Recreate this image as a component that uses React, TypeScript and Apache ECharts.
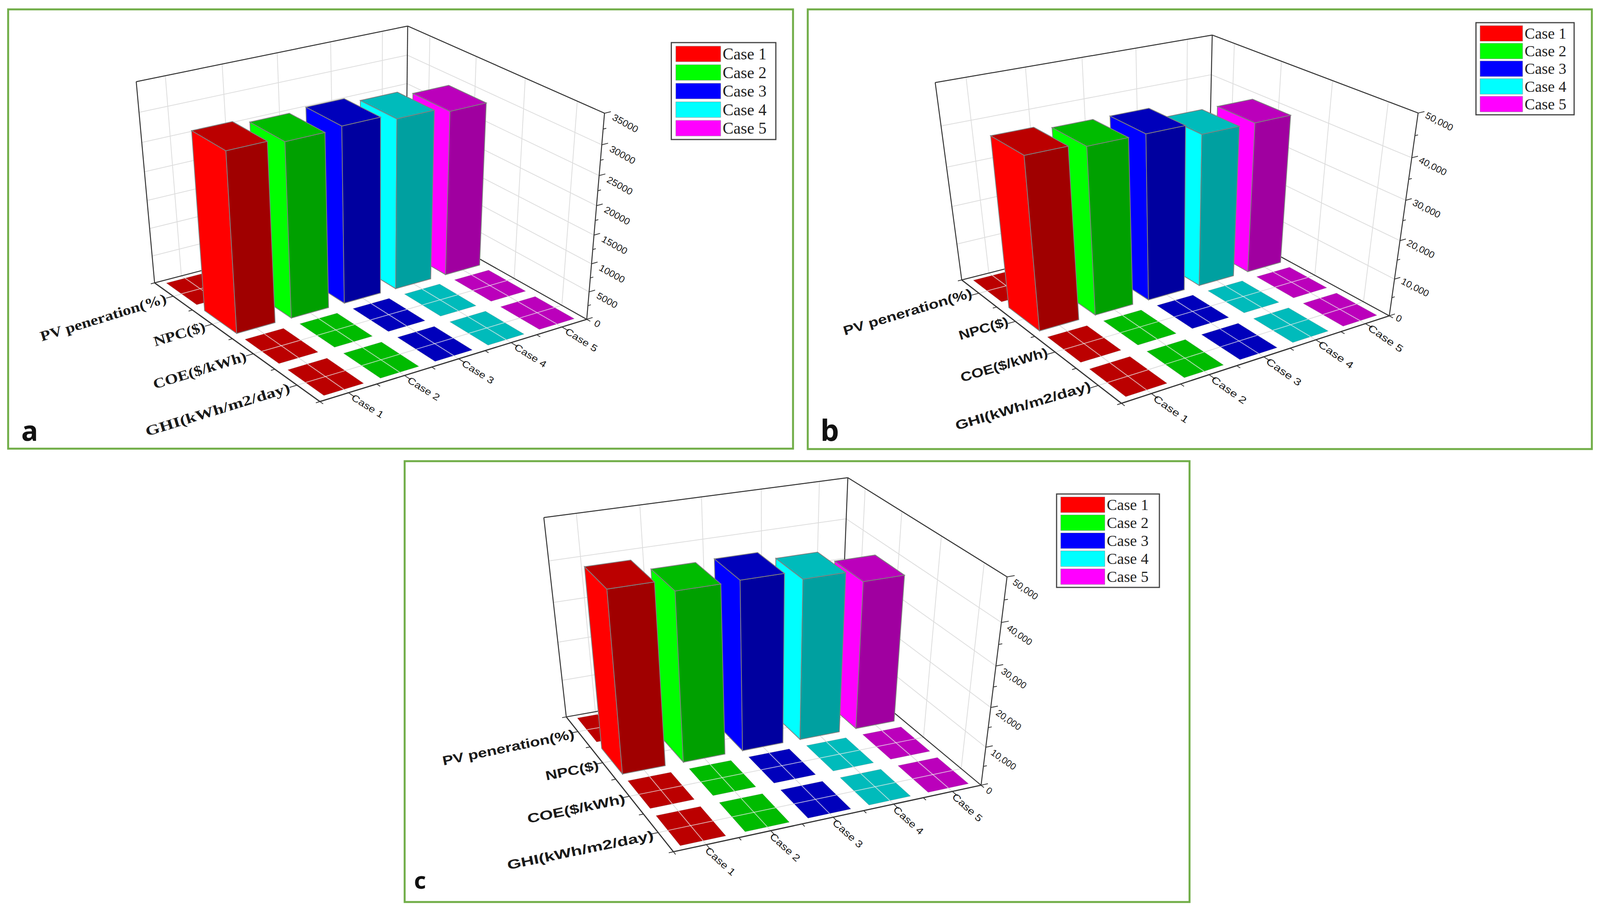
import React, { useEffect, useRef } from "react";
import * as echarts from "echarts";

const caseNames = ["Case 1", "Case 2", "Case 3", "Case 4", "Case 5"];
const rowNames = ["PV peneration(%)", "NPC($)", "COE($/kWh)", "GHI(kWh/m2/day)"];

const pvA = [60, 60, 60, 60, 60];
const npcA = [31000, 30300, 30700, 29800, 29000];
const coeA = [0.3, 0.3, 0.3, 0.3, 0.3];
const ghiA = [5.5, 5.5, 5.5, 5.5, 5.5];

const pvB = [60, 60, 60, 60, 60];
const npcB = [43100, 42200, 42200, 39300, 39300];
const coeB = [0.3, 0.3, 0.3, 0.3, 0.3];
const ghiB = [5.5, 5.5, 5.5, 5.5, 5.5];

const pvC = [60, 60, 60, 60, 60];
const npcC = [45000, 42300, 42500, 40500, 37700];
const coeC = [0.3, 0.3, 0.3, 0.3, 0.3];
const ghiC = [5.5, 5.5, 5.5, 5.5, 5.5];

const ticksA = ["0", "5000", "10000", "15000", "20000", "25000", "30000", "35000"];
const ticksBC = ["0", "10,000", "20,000", "30,000", "40,000", "50,000"];

const frontColors = ["#ff0000", "#00ff00", "#0000ff", "#00ffff", "#ff00ff"];
const topColors = ["#bb0000", "#00bb00", "#0000bb", "#00bbbb", "#bb00bb"];
const sideColors = ["#a00000", "#00a000", "#00009f", "#00a0a0", "#a000a0"];

type P = [number, number];

const SX = 2064 / 1568;

function makeProjection(cfg: any) {
  const z = (q: P): P => [cfg.ox + q[0] * SX, cfg.oy + q[1] * cfg.sy];
  const A = z(cfg.A), B = z(cfg.B), C = z(cfg.C), D = z(cfg.D), A1 = z(cfg.A1), C1 = z(cfg.C1);
  const [x0, y0] = A, [x1, y1] = D, [x2, y2] = C, [x3, y3] = B;
  const dx1 = x1 - x2, dx2 = x3 - x2, sx = x0 - x1 + x2 - x3;
  const dy1 = y1 - y2, dy2 = y3 - y2, sy = y0 - y1 + y2 - y3;
  const den = dx1 * dy2 - dx2 * dy1;
  const g = (sx * dy2 - dx2 * sy) / den;
  const h = (dx1 * sy - sx * dy1) / den;
  const a = x1 - x0 + g * x1, b = x3 - x0 + h * x3, c = x0;
  const d = y1 - y0 + g * y1, e = y3 - y0 + h * y3, f = y0;
  const m1 = (A1[0] - A[0]) / (A1[1] - A[1]);
  const m2 = (C1[0] - C[0]) / (C1[1] - C[1]);
  const vy = (C[0] - m2 * C[1] - A[0] + m1 * A[1]) / (m1 - m2);
  const vx = A[0] + m1 * (vy - A[1]);
  const lam = (A1[1] - f) / (vy - A1[1]);
  return (u: number, v: number, w: number): P => {
    const s = u / 5, t = v / 4;
    const W = g * s + h * t + 1 + lam * w;
    return [
      (a * s + b * t + c + lam * w * vx) / W,
      (d * s + e * t + f + lam * w * vy) / W,
    ];
  };
}

const panels: any[] = [
  {
    key: "a", ox: 0, oy: 0, sy: 1170 / 1568, max: 35000, ticks: ticksA,
    A: [303, 970], B: [627, 1377], C: [1150, 1095], D: [795, 745], A1: [267, 280], C1: [1185, 385],
    rows: [pvA, npcA, coeA, ghiA],
    frame: [21, 24, 2025, 1124],
    letter: { t: "a", x: 55, y: 1100, size: 72 },
    legend: { left: 1732, top: 109, w: 116, gap: 5.5, pad: [8, 24, 8, 11], font: 42 },
    rowF: { family: "Liberation Serif", weight: "bold", size: 36, scale: 1.32, scales: [0.91, 0.9, 0.92, 1], rot: 17, dx: 0, dy: 0 },
    caseF: { size: 24, scale: 1.22, rot: -32, dx: -6, dy: -1 },
    valF: { size: 24, scale: 1.08, rot: -29, dx: 6, dy: 12 },
  },
  {
    key: "b", ox: 2064, oy: 0, sy: 1170 / 1568, max: 50000, ticks: ticksBC,
    A: [317, 960], B: [630, 1383], C: [1155, 1083], D: [800, 745], A1: [265, 283], C1: [1212, 382],
    rows: [pvB, npcB, coeB, ghiB],
    frame: [2084, 24, 2023, 1125],
    letter: { t: "b", x: 2117, y: 1098, size: 76 },
    legend: { left: 3808, top: 58, w: 110, gap: 4.2, pad: [7, 20, 7, 10], font: 40 },
    rowF: { family: "Liberation Sans", weight: "bold", size: 33, scale: 1.33, scales: [0.95, 0.9, 0.92, 1], rot: 16.5, dx: 0, dy: -6 },
    caseF: { size: 25, scale: 1.32, rot: -35, dx: -8, dy: -2 },
    valF: { size: 24, scale: 1.05, rot: -27, dx: 4, dy: 8 },
  },
  {
    key: "c", ox: 1020, oy: 1160, sy: 1171 / 1568, max: 50000, ticks: ticksBC,
    A: [335, 903], B: [545, 1365], C: [1148, 1137], D: [872, 735], A1: [291, 220], C1: [1200, 408],
    rows: [pvC, npcC, coeC, ghiC],
    frame: [1044, 1180, 2025, 1128],
    letter: { t: "c", x: 1068, y: 2251, size: 60 },
    legend: { left: 2726, top: 1264, w: 114, gap: 5, pad: [7, 28, 7, 10], font: 40 },
    rowF: { family: "Liberation Sans", weight: "bold", size: 33, scale: 1.41, scales: [0.9, 0.9, 0.956, 1], rot: 11.6, dx: 10, dy: 2 },
    caseF: { size: 25, scale: 1.2, rot: -42, dx: -10, dy: -2 },
    valF: { size: 24, scale: 1.0, rot: -35, dx: -2, dy: 14 },
  },
];

const BU = 0.7;
const BV = 0.8;

function lineEl(p: P, q: P, stroke: string, lineWidth: number, z = 1) {
  return { type: "line", z, silent: true, shape: { x1: p[0], y1: p[1], x2: q[0], y2: q[1] }, style: { stroke, lineWidth } };
}

function textEl(text: string, p: P, opts: any) {
  return {
    type: "text", z: 1, silent: true, x: p[0], y: p[1],
    rotation: (opts.rot * Math.PI) / 180, scaleX: opts.scale,
    style: {
      text, fill: "#1a1a1a", fontSize: opts.size, fontFamily: opts.family || "Liberation Sans",
      fontWeight: opts.weight || "normal", align: opts.align, verticalAlign: "middle",
    },
  };
}

function axesFor(pn: any) {
  const pr = pn.proj;
  const els: any[] = [];
  const GRID = "#dddddd";
  const DARK = "#333333";
  const n = pn.ticks.length - 1;
  for (let i = 0; i < 5; i++) {
    els.push(lineEl(pr(i + 0.5, 0, 0), pr(i + 0.5, 4, 0), GRID, 2));
    els.push(lineEl(pr(i + 0.5, 0, 0), pr(i + 0.5, 0, 1), GRID, 2));
  }
  for (let j = 0; j < 4; j++) {
    els.push(lineEl(pr(0, j + 0.5, 0), pr(5, j + 0.5, 0), GRID, 2));
    els.push(lineEl(pr(5, j + 0.5, 0), pr(5, j + 0.5, 1), GRID, 2));
  }
  for (let k = 1; k <= n; k++) {
    const w = k / n;
    els.push(lineEl(pr(0, 0, w), pr(5, 0, w), GRID, 2));
    els.push(lineEl(pr(5, 0, w), pr(5, 4, w), GRID, 2));
  }
  els.push(lineEl(pr(0, 0, 0), pr(0, 0, 1), DARK, 2.5));
  els.push(lineEl(pr(0, 0, 1), pr(5, 0, 1), DARK, 2.5));
  els.push(lineEl(pr(5, 0, 1), pr(5, 4, 1), DARK, 2.5));
  els.push(lineEl(pr(5, 4, 0), pr(5, 4, 1), DARK, 2.5));
  els.push(lineEl(pr(5, 0, 0), pr(5, 0, 1), DARK, 2.5));
  els.push(lineEl(pr(0, 0, 0), pr(5, 0, 0), DARK, 2.5));
  els.push(lineEl(pr(5, 0, 0), pr(5, 4, 0), DARK, 2.5));
  els.push(lineEl(pr(0, 0, 0), pr(0, 4, 0), DARK, 3));
  els.push(lineEl(pr(0, 4, 0), pr(5, 4, 0), DARK, 3));
  for (let j = 0; j <= 8; j++) {
    const v = j / 2;
    els.push(lineEl(pr(0, v, 0), pr(j % 2 ? -0.13 : -0.07, v, 0), DARK, 2));
  }
  rowNames.forEach((name, j) => {
    const q = pr(-0.13, j + 0.5, 0);
    els.push(textEl(name, [q[0] + pn.rowF.dx, q[1] + pn.rowF.dy], { ...pn.rowF, scale: pn.rowF.scale * pn.rowF.scales[j], align: "right" }));
  });
  for (let i = 0; i <= 10; i++) {
    const u = i / 2;
    els.push(lineEl(pr(u, 4, 0), pr(u, i % 2 ? 4.13 : 4.07, 0), DARK, 2));
  }
  caseNames.forEach((name, i) => {
    const q = pr(i + 0.5, 4.13, 0);
    els.push(textEl(name, [q[0] + pn.caseF.dx, q[1] + pn.caseF.dy], { ...pn.caseF, align: "left" }));
  });
  for (let k = 0; k <= 2 * n; k++) {
    const w = k / (2 * n);
    els.push(lineEl(pr(5, 4, w), pr(k % 2 ? 5.06 : 5.12, 4, w), DARK, 2));
  }
  pn.ticks.forEach((t: string, k: number) => {
    const q = pr(5.12, 4, k / n);
    els.push(textEl(t, [q[0] + pn.valF.dx, q[1] + pn.valF.dy], { ...pn.valF, align: "left" }));
  });
  const [fx, fy, fw, fh] = pn.frame;
  els.push({ type: "rect", z: 0, silent: true, shape: { x: fx, y: fy, width: fw, height: fh }, style: { fill: "none", stroke: "#70ad47", lineWidth: 5 } });
  els.push({
    type: "text", z: 1, silent: true, x: pn.letter.x, y: pn.letter.y,
    style: { text: pn.letter.t, fill: "#111", fontSize: pn.letter.size, fontFamily: "Noto Sans", fontWeight: "bold", align: "left", verticalAlign: "middle" },
  });
  return els;
}

function barRenderer(pn: any, caseIdx: number) {
  const pr = pn.proj;
  return (_params: any, api: any) => {
    const u = api.value(0), v = api.value(1), val = api.value(2);
    const w = val / pn.max;
    const u0 = u + 0.5 - BU / 2, u1 = u + 0.5 + BU / 2;
    const v0 = v + 0.5 - BV / 2, v1 = v + 0.5 + BV / 2;
    const tall = w > 0.05;
    const edge = tall ? "#808080" : "rgba(150,150,150,0.5)";
    const poly = (pts: P[], fill: string) => ({
      type: "polygon", shape: { points: pts }, style: { fill, stroke: edge, lineWidth: tall ? 2 : 1 },
    });
    const children: any[] = [];
    if (tall) {
      children.push(poly([pr(u0, v0, 0), pr(u0, v1, 0), pr(u0, v1, w), pr(u0, v0, w)], frontColors[caseIdx]));
      children.push(poly([pr(u0, v1, 0), pr(u1, v1, 0), pr(u1, v1, w), pr(u0, v1, w)], sideColors[caseIdx]));
    }
    children.push(poly([pr(u0, v0, w), pr(u1, v0, w), pr(u1, v1, w), pr(u0, v1, w)], topColors[caseIdx]));
    if (!tall) {
      const a = pr(u + 0.5, v0, w), b = pr(u + 0.5, v1, w), c = pr(u0, v + 0.5, w), d = pr(u1, v + 0.5, w);
      const st = { stroke: "rgba(235,235,235,0.75)", lineWidth: 2 };
      children.push({ type: "line", shape: { x1: a[0], y1: a[1], x2: b[0], y2: b[1] }, style: st });
      children.push({ type: "line", shape: { x1: c[0], y1: c[1], x2: d[0], y2: d[1] }, style: st });
    }
    return { type: "group", children };
  };
}

function buildOption() {
  const series: any[] = [];
  const legends: any[] = [];
  const graphics: any[] = [];
  panels.forEach((pn) => {
    pn.proj = makeProjection(pn);
    graphics.push(...axesFor(pn));
    for (let c = 4; c >= 0; c--) {
      series.push({
        type: "custom",
        name: caseNames[c],
        coordinateSystem: "none",
        silent: true,
        z: 5,
        itemStyle: { color: frontColors[c] },
        data: pn.rows.map((r: number[], j: number) => [c, j, r[c]]),
        renderItem: barRenderer(pn, c),
      });
    }
    const l = pn.legend;
    legends.push({
      orient: "vertical", left: l.left, top: l.top, icon: "rect", selectedMode: false,
      itemWidth: l.w, itemHeight: 40, itemGap: l.gap, padding: l.pad,
      backgroundColor: "#fff", borderColor: "#444", borderWidth: 3, z: 6,
      data: caseNames,
      itemStyle: { borderColor: "#999", borderWidth: 1 },
      textStyle: { fontFamily: "Liberation Serif", fontSize: l.font, color: "#222" },
    });
  });
  return {
    animation: false,
    backgroundColor: "#ffffff",
    legend: legends,
    graphic: { elements: graphics },
    series,
  };
}

export default function App() {
  const ref = useRef<HTMLDivElement>(null);
  useEffect(() => {
    const chart = echarts.init(ref.current as HTMLDivElement, undefined, { renderer: "svg", width: 4128, height: 2331 });
    chart.setOption(buildOption() as any);
    return () => chart.dispose();
  }, []);
  const fit = window.innerWidth / 4128;
  return (
    <div
      ref={ref}
      style={{ position: "fixed", left: 0, top: 0, width: 4128, height: 2331, transform: `scale(${fit}, 1)`, transformOrigin: "0 0" }}
    />
  );
}
